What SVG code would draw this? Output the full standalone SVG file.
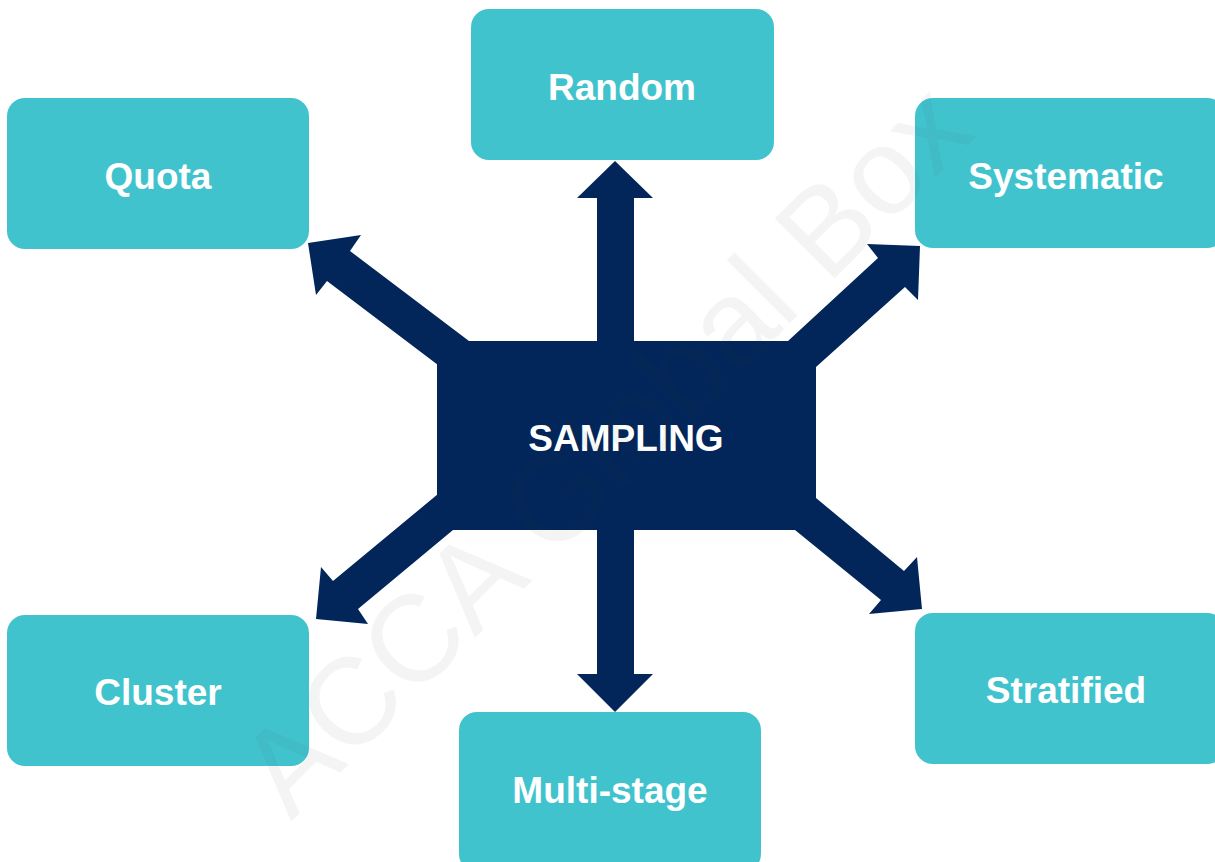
<svg xmlns="http://www.w3.org/2000/svg" width="1215" height="862" viewBox="0 0 1215 862">
  <style>
    .box { fill: #41C3CE; }
    .hub { fill: #02265A; }
    .arrow { fill: #02265A; }
    .label { font-family: "Liberation Sans", Arial, sans-serif; font-weight: bold; font-size: 37px; fill: #FFFFFF; text-anchor: middle; }
    .mark { font-family: "Liberation Sans", Arial, sans-serif; font-size: 123px; fill: #3C3C3C; fill-opacity: 0.057; }
  </style>
  <rect width="1215" height="862" fill="#FFFFFF"/>

  <!-- block arrows radiating from the hub -->
  <g id="connectors">
    <!-- up: to Random -->
    <polygon class="arrow" points="597,345 597,198 577,198 615,161 653,198 634,198 634,345"/>
    <!-- down: to Multi-stage -->
    <polygon class="arrow" points="597,525 597,674 577,674 615,712 653,674 634,674 634,525"/>
    <!-- up-left: to Quota -->
    <polygon class="arrow" points="469,341 350,251 361,235 308,243 316,295 327,281 438,365"/>
    <!-- up-right: to Systematic -->
    <polygon class="arrow" points="788,341 878,258 867,244 920,246 918,300 905,287 816,367"/>
    <!-- down-left: to Cluster -->
    <polygon class="arrow" points="438,494 333,581 321,567 316,619 368,624 358,609 453,530"/>
    <!-- down-right: to Stratified -->
    <polygon class="arrow" points="816,498 904,571 917,557 922,609 869,614 881,600 795,530"/>
  </g>

  <g id="node-sampling">
    <rect class="hub" x="437" y="341" width="379" height="189"/>
    <text class="label" x="626" y="451">SAMPLING</text>
  </g>

  <g id="node-random">
    <rect class="box" x="471" y="9" width="303" height="151" rx="18"/>
    <text class="label" x="622" y="100">Random</text>
  </g>

  <g id="node-quota">
    <rect class="box" x="7" y="98" width="302" height="151" rx="18"/>
    <text class="label" x="158" y="189">Quota</text>
  </g>

  <g id="node-systematic">
    <rect class="box" x="915" y="98" width="310" height="150" rx="18"/>
    <text class="label" x="1066" y="189">Systematic</text>
  </g>

  <g id="node-cluster">
    <rect class="box" x="7" y="615" width="302" height="151" rx="18"/>
    <text class="label" x="158" y="705">Cluster</text>
  </g>

  <g id="node-stratified">
    <rect class="box" x="915" y="613" width="310" height="151" rx="18"/>
    <text class="label" x="1066" y="703">Stratified</text>
  </g>

  <g id="node-multistage">
    <rect class="box" x="459" y="712" width="302" height="160" rx="18"/>
    <text class="label" x="610" y="803">Multi-stage</text>
  </g>

  <!-- faint diagonal watermark over everything -->
  <text class="mark" transform="translate(291,822) rotate(-45)">ACCA Global Box</text>
</svg>
